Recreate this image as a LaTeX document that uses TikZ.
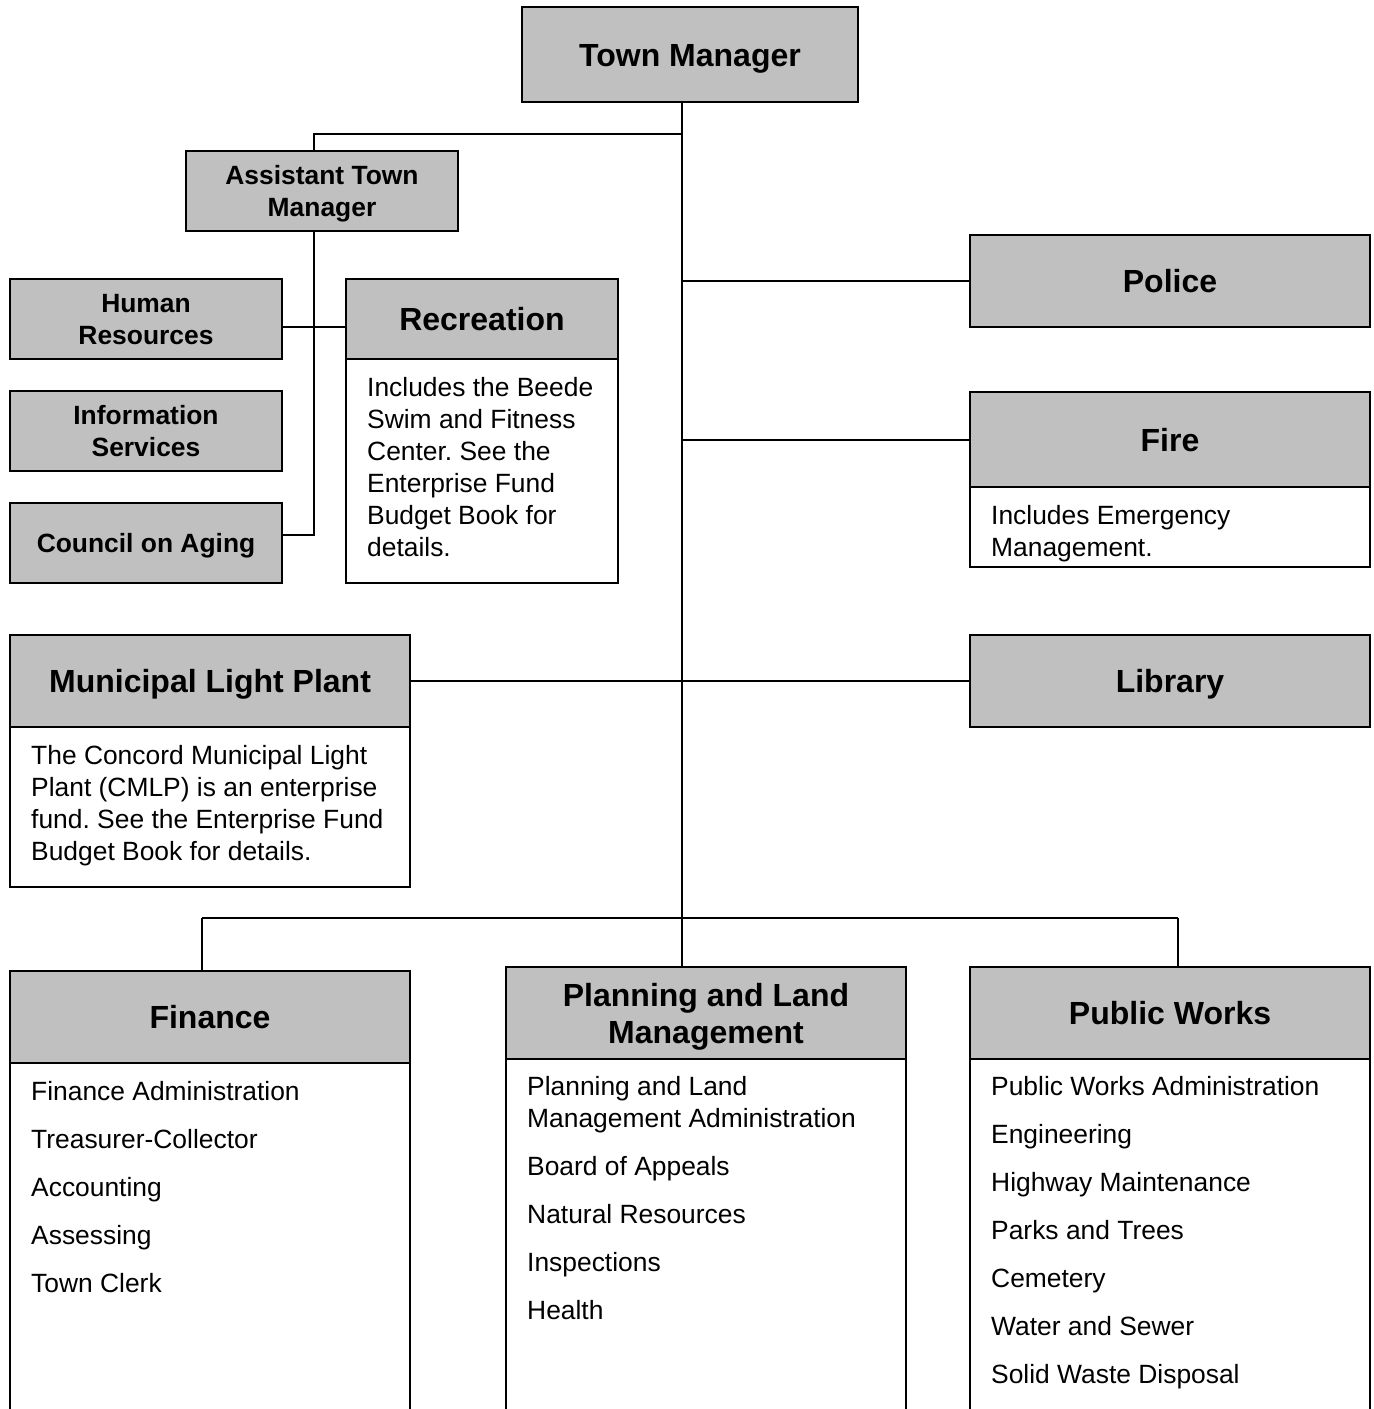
\documentclass[tikz,border=0pt]{standalone}
\usepackage{fontspec}
\setmainfont{Liberation Sans}
\frenchspacing
\definecolor{boxgray}{HTML}{C0C0C0}
\newcommand\headfont{\fontsize{32}{37}\selectfont\bfseries}
\newcommand\smallhead{\fontsize{26.4}{32}\selectfont\bfseries}
\newcommand\bodyfont{\fontsize{26.4}{32}\selectfont\frenchspacing}
\tikzset{
  hbox/.style={draw=black, line width=2pt, fill=boxgray, inner sep=0pt, outer sep=0pt, align=center, text depth=0pt},
  bighead/.style={hbox, font=\headfont, text height=23pt},
  bighead2/.style={hbox, font=\headfont, text height=60pt},
  smallbox/.style={hbox, font=\smallhead, text height=19pt, minimum width=272, minimum height=80},
  smallbox2/.style={hbox, font=\smallhead, text height=51pt, minimum width=272, minimum height=80},
  bbox/.style={draw=black, line width=2pt, fill=white, inner sep=0pt, outer sep=0pt, anchor=north west},
  btext/.style={anchor=base west, inner sep=0pt, align=left, font=\bodyfont},
  conn/.style={draw=black, line width=2pt}
}
\begin{document}
\begin{tikzpicture}[x=1pt,y=-1pt]
\useasboundingbox (0,0) rectangle (1374,1409);
\clip (0,0) rectangle (1374,1409);
% junction coordinates
\coordinate (spine) at (682,918);
\coordinate (atmx) at (314,134);
\coordinate (hrj) at (314,327);
\coordinate (coaj) at (314,535);
\coordinate (barL) at (202,918);
\coordinate (barR) at (1178,918);

% boxes
\node[bighead, minimum width=336, minimum height=95] (tm) at (690,54.5) {Town Manager};
\node[smallbox2] (atm) at (322,191) {Assistant Town\\Manager};
\node[smallbox2] (hr) at (146,319) {Human\\Resources};
\node[smallbox2] (is) at (146,431) {Information\\Services};
\node[smallbox] (coa) at (146,543) {Council on Aging};
\node[bighead, minimum width=272, minimum height=80] (rec) at (482,319) {Recreation};
\node[bbox, minimum width=272, minimum height=224] (recb) at (346,359) {};
\node[bighead, minimum width=400, minimum height=92] (police) at (1170,281) {Police};
\node[bighead, minimum width=400, minimum height=95] (fire) at (1170,439.5) {Fire};
\node[bbox, minimum width=400, minimum height=80] (fireb) at (970,487) {};
\node[bighead, minimum width=400, minimum height=92] (mlp) at (210,681) {Municipal Light Plant};
\node[bbox, minimum width=400, minimum height=160] (mlpb) at (10,727) {};
\node[bighead, minimum width=400, minimum height=92] (lib) at (1170,681) {Library};
\node[bighead, minimum width=400, minimum height=92] (fin) at (210,1017) {Finance};
\node[bbox, minimum width=400, minimum height=400] (finb) at (10,1063) {};
\node[bighead2, minimum width=400, minimum height=92] (plan) at (706,1013) {Planning and Land\\Management};
\node[bbox, minimum width=400, minimum height=400] (planb) at (506,1059) {};
\node[bighead, minimum width=400, minimum height=92] (pw) at (1170,1013) {Public Works};
\node[bbox, minimum width=400, minimum height=400] (pwb) at (970,1059) {};

% body texts (anchored at the baseline of the last line)
\node[btext] (rect) at (367,556) {Includes the Beede\\Swim and Fitness\\Center. See the\\Enterprise Fund\\Budget Book for\\details.};
\node[btext] (firet) at (991,556) {Includes Emergency\\Management.};
\node[btext] (mlpt) at (31,860) {The Concord Municipal Light\\Plant (CMLP) is an enterprise\\fund. See the Enterprise Fund\\Budget Book for details.};
\node[btext] (fint) at (31,1292) {Finance Administration\\[16pt]Treasurer-Collector\\[16pt]Accounting\\[16pt]Assessing\\[16pt]Town Clerk};
\node[btext] (plant) at (527,1319) {Planning and Land\\Management Administration\\[16pt]Board of Appeals\\[16pt]Natural Resources\\[16pt]Inspections\\[16pt]Health};
\node[btext] (pwt) at (991,1383) {Public Works Administration\\[16pt]Engineering\\[16pt]Highway Maintenance\\[16pt]Parks and Trees\\[16pt]Cemetery\\[16pt]Water and Sewer\\[16pt]Solid Waste Disposal};

% connectors
\draw[conn] (tm.south -| spine) -- (spine);
\draw[conn] (atmx -| spine) -- (atmx) -- (atmx |- atm.north);
\draw[conn] (atmx |- atm.south) -- (coaj) -- (coaj -| coa.east);
\draw[conn] (hrj -| hr.east) -- (hrj -| rec.west);
\draw[conn] (police.west -| spine) -- (police.west);
\draw[conn] (fire.west -| spine) -- (fire.west);
\draw[conn] (mlp.east) -- (lib.west);
\draw[conn] (barL) -- (barR);
\draw[conn] (barL) -- (barL |- fin.north);
\draw[conn] (spine) -- (spine |- plan.north);
\draw[conn] (barR) -- (barR |- pw.north);
\end{tikzpicture}
\end{document}
